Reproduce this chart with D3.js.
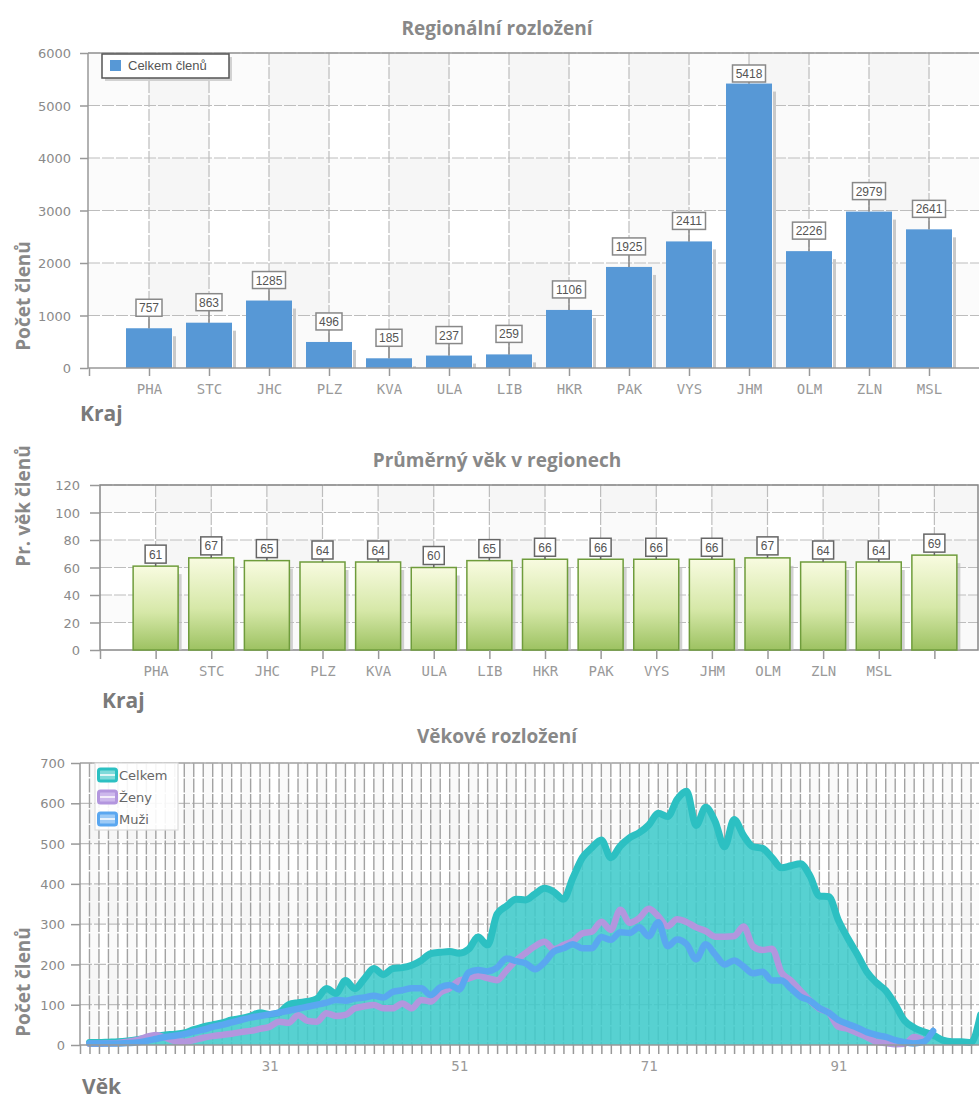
<!DOCTYPE html>
<html><head><meta charset="utf-8">
<script src="https://cdn.jsdelivr.net/npm/d3@7"></script>
<style>body{margin:0;background:#fff}svg{display:block}</style>
</head><body>
<svg id="c" width="979" height="1106"></svg>
<script>
// ---------- DATA ----------
const regions = ["PHA","STC","JHC","PLZ","KVA","ULA","LIB","HKR","PAK","VYS","JHM","OLM","ZLN","MSL"];
const members = [757,863,1285,496,185,237,259,1106,1925,2411,5418,2226,2979,2641];
const memberTicks = [0,1000,2000,3000,4000,5000,6000];

const ageRegions = ["PHA","STC","JHC","PLZ","KVA","ULA","LIB","HKR","PAK","VYS","JHM","OLM","ZLN","MSL",""];
const avgAge = [61,67,65,64,64,60,65,66,66,66,66,67,64,64,69];
const avgAgeTicks = [0,20,40,60,80,100,120];

const ages = d3.range(12, 107);          // age categories 12..106
const ageLabels = [31,51,71,91];
const ageCountTicks = [0,100,200,300,400,500,600,700];
const celkem = [
  6,6,7,8,10,13,17,22,25,27,
  30,38,45,50,55,62,66,72,80,76,
  80,100,105,108,115,140,128,160,140,165,
  190,175,190,192,198,210,227,230,232,228,
  238,268,248,325,345,362,360,375,389,380,
  362,415,465,490,509,465,494,515,527,546,
  575,567,610,630,545,590,555,492,560,520,
  492,488,465,440,445,450,420,370,368,310,
  265,225,182,155,135,100,60,43,33,25,
  12,8,8,6,75];
const zeny = [
  3,3,4,5,8,12,20,25,18,10,
  8,12,18,22,25,28,32,35,40,45,
  58,55,74,60,58,79,72,75,91,96,
  99,91,91,103,91,112,108,130,141,160,
  165,172,166,161,185,210,228,245,256,238,
  248,258,277,281,306,286,336,303,315,338,
  320,295,312,305,292,283,269,269,270,294,
  245,236,239,180,160,135,110,90,80,45,
  40,30,20,8,5,2,3,20,12];
const muzi = [
  4,4,4,4,5,6,10,15,20,23,
  27,33,38,45,50,56,62,68,72,76,
  80,85,90,95,100,105,112,110,115,118,
  122,118,132,136,141,141,124,143,149,138,
  180,186,183,192,215,208,203,188,205,232,
  240,250,240,240,268,261,280,278,292,270,
  305,245,262,250,213,250,225,200,210,195,
  178,182,160,160,140,120,110,92,80,62,
  52,43,32,25,20,12,7,4,8,35];

// ---------- COMMON ----------
const svg = d3.select("#c");
svg.append("rect").attr("width",979).attr("height",1106).attr("fill","#fff");
const defs = svg.append("defs");
const grad = defs.append("linearGradient").attr("id","gGreen").attr("x1",0).attr("y1",0).attr("x2",0).attr("y2",1);
grad.append("stop").attr("offset","0%").attr("stop-color","#f8fbe0");
grad.append("stop").attr("offset","55%").attr("stop-color","#d6e8a8");
grad.append("stop").attr("offset","100%").attr("stop-color","#9dc262");

const TITLE_FONT = "'Open Sans', 'DejaVu Sans', sans-serif";
const MONO = "'DejaVu Sans Mono', monospace";
const NUM = "'DejaVu Sans', Verdana, sans-serif";
const GRID = "#bdbdbd";
const AX = "#999";

function title(txt, x, y) {
  svg.append("text").attr("x",x).attr("y",y).attr("text-anchor","middle")
    .attr("font-family",TITLE_FONT).attr("font-weight","bold").attr("font-size",19)
    .attr("fill","#888").text(txt);
}
function yTitle(txt, x, y) {
  svg.append("text").attr("transform",`translate(${x},${y}) rotate(-90)`)
    .attr("text-anchor","middle").attr("font-family",TITLE_FONT).attr("font-weight","bold")
    .attr("font-size",19).attr("fill","#888").text(txt);
}
function xTitle(txt, x, y, size) {
  svg.append("text").attr("x",x).attr("y",y).attr("font-family",TITLE_FONT)
    .attr("font-weight","bold").attr("font-size",size).attr("fill","#7a7a7a").text(txt);
}

// generic plot background: bands + grid
function plotBack(g, x, y, nPos, yTicks, left, right, top, bottom, gridOpts) {
  for (let i = 0; i < nPos; i++) {
    if (i % 2 === 1) {
      const a = x(i), b = Math.min(x(i+1), right);
      g.append("rect").attr("x",a).attr("y",top).attr("width",Math.max(0,b-a)).attr("height",bottom-top)
        .attr("fill","#000").attr("fill-opacity",0.02);
    }
  }
  for (let k = 0; k < yTicks.length-1; k++) {
    if (k % 2 === 1) {
      g.append("rect").attr("x",left).attr("y",y(yTicks[k+1])).attr("width",right-left)
        .attr("height",y(yTicks[k])-y(yTicks[k+1])).attr("fill","#000").attr("fill-opacity",0.016);
    }
  }
  yTicks.slice(1).forEach(t => {
    g.append("line").attr("x1",left).attr("x2",right).attr("y1",y(t)).attr("y2",y(t))
      .attr("stroke",GRID).attr("stroke-width",1.2).attr("stroke-dasharray","12,2");
  });
  for (let i = 1; i <= nPos; i++) {
    if (x(i) > right) break;
    g.append("line").attr("x1",x(i)).attr("x2",x(i)).attr("y1",top).attr("y2",bottom)
      .attr("stroke",gridOpts.vColor).attr("stroke-width",gridOpts.vWidth).attr("stroke-dasharray",gridOpts.vDash);
  }
}
function yAxisDraw(y, ticks, axisX, tickLen, labelX) {
  const ax = d3.axisLeft(y).tickValues(ticks).tickSize(tickLen).tickPadding(0).tickFormat(d3.format("d"));
  const g = svg.append("g").attr("transform",`translate(${axisX},0)`).call(ax);
  g.select(".domain").remove();
  g.selectAll(".tick line").attr("stroke",AX).attr("stroke-width",1.5);
  g.selectAll(".tick text").attr("x",labelX-axisX).attr("font-family",NUM).attr("font-size",13)
    .attr("fill","#8a8a8a").attr("dy","0.36em");
  return g;
}

// ---------- CHART 1 ----------
{
  const left = 88, top = 53, bottom = 368, right = 990;
  const x = d3.scaleLinear().domain([0,15]).range([89,989]);
  const y = d3.scaleLinear().domain([0,6000]).range([bottom, top]);
  const g = svg.append("g");
  plotBack(g, x, y, 15, memberTicks, left, right, top, bottom, {vColor:GRID, vWidth:1.2, vDash:"12,2"});
  g.append("line").attr("x1",left).attr("x2",right).attr("y1",top).attr("y2",top).attr("stroke","#999").attr("stroke-width",1.5);
  g.append("line").attr("x1",left).attr("x2",left).attr("y1",top).attr("y2",bottom).attr("stroke","#999").attr("stroke-width",1.5);
  members.forEach((v,i) => {
    const cx = x(i+1);
    g.append("rect").attr("x",cx+24).attr("y",y(v)+8).attr("width",3).attr("height",bottom-y(v)-8).attr("fill","#c9c9c9");
    g.append("rect").attr("x",cx-23).attr("y",y(v)).attr("width",46).attr("height",bottom-y(v)).attr("fill","#5798d6");
  });
  g.append("line").attr("x1",left).attr("x2",right).attr("y1",bottom).attr("y2",bottom).attr("stroke","#999").attr("stroke-width",1.5);
  const xa = d3.axisBottom(x).tickValues(d3.range(0,15)).tickSize(8).tickFormat(d => d===0 ? "" : regions[d-1]);
  const xg = svg.append("g").attr("transform",`translate(0,${bottom})`).call(xa);
  xg.select(".domain").remove();
  xg.selectAll(".tick line").attr("stroke",AX).attr("stroke-width",1.5);
  xg.selectAll(".tick text").attr("y",22).attr("dy","0.32em").attr("font-family",MONO).attr("font-size",14).attr("fill","#999");
  members.forEach((v,i) => {
    const cx = x(i+1), t = String(v), w = 7*t.length + 5, h = 17;
    const bt = Math.max(y(v) - 12 - h, top + 12);
    g.append("line").attr("x1",cx).attr("x2",cx).attr("y1",bt+h).attr("y2",y(v)).attr("stroke","#888").attr("stroke-width",1.5);
    g.append("rect").attr("x",cx-w/2).attr("y",bt).attr("width",w).attr("height",h).attr("fill","#fff").attr("stroke","#888").attr("stroke-width",1.5);
    g.append("text").attr("x",cx).attr("y",bt+13).attr("text-anchor","middle").attr("font-family","'Liberation Sans', Arial, sans-serif")
      .attr("font-size",12).attr("fill","#555").text(t);
  });
  yAxisDraw(y, memberTicks, left, 8, 71);
  svg.append("rect").attr("x",105).attr("y",57).attr("width",127).attr("height",24).attr("fill","#aaa").attr("opacity",0.5);
  svg.append("rect").attr("x",102).attr("y",54).attr("width",127).attr("height",24).attr("fill","#fff").attr("stroke","#555").attr("stroke-width",1.5);
  svg.append("rect").attr("x",110).attr("y",60).attr("width",11).attr("height",11).attr("fill","#5798d6");
  svg.append("text").attr("x",128).attr("y",70).attr("font-family","'Liberation Sans', Arial, sans-serif").attr("font-size",13).attr("fill","#555").text("Celkem členů");
  title("Regionální rozložení", 497, 35);
  yTitle("Počet členů", 30, 296);
  xTitle("Kraj", 80, 421, 21);
}

// ---------- CHART 2 ----------
{
  const left = 100, top = 485, bottom = 650, right = 978;
  const x = d3.scaleLinear().domain([0,16]).range([100,990]);
  const y = d3.scaleLinear().domain([0,120]).range([bottom, top]);
  const g = svg.append("g");
  plotBack(g, x, y, 16, avgAgeTicks, left, right, top, bottom, {vColor:GRID, vWidth:1.2, vDash:"12,2"});
  g.append("rect").attr("x",left).attr("y",top).attr("width",right-left).attr("height",bottom-top)
    .attr("fill","none").attr("stroke","#888").attr("stroke-width",1.5);
  avgAge.forEach((v,i) => {
    const cx = x(i+1);
    g.append("rect").attr("x",cx+22).attr("y",y(v)+8).attr("width",4).attr("height",bottom-y(v)-8).attr("fill","#bdbdbd").attr("opacity",0.7);
    g.append("rect").attr("x",cx-22.5).attr("y",y(v)).attr("width",45).attr("height",bottom-y(v))
      .attr("fill","url(#gGreen)").attr("stroke","#6f9c3c").attr("stroke-width",1.5);
  });
  const xa = d3.axisBottom(x).tickValues(d3.range(0,16)).tickSize(9).tickFormat(d => d===0 ? "" : ageRegions[d-1]);
  const xg = svg.append("g").attr("transform",`translate(0,${bottom})`).call(xa);
  xg.select(".domain").remove();
  xg.selectAll(".tick line").attr("stroke",AX).attr("stroke-width",1.5);
  xg.selectAll(".tick text").attr("y",22).attr("dy","0.32em").attr("font-family",MONO).attr("font-size",14).attr("fill","#999");
  avgAge.forEach((v,i) => {
    const cx = x(i+1), t = String(v), w = 21, h = 18;
    const bt = y(v) - 3 - h;
    g.append("line").attr("x1",cx).attr("x2",cx).attr("y1",bt+h).attr("y2",y(v)).attr("stroke","#666").attr("stroke-width",1.5);
    g.append("rect").attr("x",cx-w/2).attr("y",bt).attr("width",w).attr("height",h).attr("fill","#fff").attr("stroke","#666").attr("stroke-width",1.5);
    g.append("text").attr("x",cx).attr("y",bt+13.5).attr("text-anchor","middle").attr("font-family","'Liberation Sans', Arial, sans-serif")
      .attr("font-size",12).attr("fill","#555").text(t);
  });
  yAxisDraw(y, avgAgeTicks, left, 10, 80);
  title("Průměrný věk v regionech", 497, 467);
  yTitle("Pr. věk členů", 30, 506);
  xTitle("Kraj", 102, 708, 21);
}

// ---------- CHART 3 ----------
{
  const left = 80, top = 763, bottom = 1045, right = 990;
  const x = d3.scaleLinear().domain([0,96]).range([80,990]);
  const y = d3.scaleLinear().domain([0,700]).range([bottom, top]);
  const pos = a => x(a - 11);
  const g = svg.append("g");
  plotBack(g, x, y, 96, ageCountTicks, left, right, top, bottom, {vColor:"#a2a2a2", vWidth:1.4, vDash:"14,1.5"});
  g.append("line").attr("x1",left).attr("x2",right).attr("y1",top).attr("y2",top).attr("stroke","#aaa").attr("stroke-width",1.5);
  g.append("line").attr("x1",left).attr("x2",left).attr("y1",top).attr("y2",bottom).attr("stroke","#999").attr("stroke-width",1.5);

  const curve = d3.curveMonotoneX;
  const area = d3.area().x((d,i)=>pos(ages[i])).y0(y(0)).y1(d=>y(d)).curve(curve);
  const line = d3.line().x((d,i)=>pos(ages[i])).y(d=>y(d)).curve(curve);
  g.append("path").datum(celkem).attr("d",area).attr("fill","#40cbcb").attr("fill-opacity",0.88);
  g.append("path").datum(celkem).attr("d",line).attr("fill","none").attr("stroke","#2cc0c2").attr("stroke-width",7)
    .attr("stroke-linejoin","round").attr("stroke-linecap","round");
  g.append("path").datum(zeny).attr("d",line).attr("fill","none").attr("stroke","#b396de").attr("stroke-width",6.5)
    .attr("stroke-linejoin","round").attr("stroke-linecap","round");
  g.append("path").datum(muzi).attr("d",line).attr("fill","none").attr("stroke","#5aa7f0").attr("stroke-width",6.5)
    .attr("stroke-linejoin","round").attr("stroke-linecap","round");
  g.append("line").attr("x1",left).attr("x2",right).attr("y1",bottom).attr("y2",bottom).attr("stroke","#999").attr("stroke-width",1.5);

  const xa = d3.axisBottom(x).tickValues(d3.range(0,96)).tickSize(9)
    .tickFormat(d => { const a = d + 11; return ageLabels.includes(a) ? String(a) : ""; });
  const xg = svg.append("g").attr("transform",`translate(0,${bottom})`).call(xa);
  xg.select(".domain").remove();
  xg.selectAll(".tick line").attr("stroke","#999").attr("stroke-width",1.5);
  xg.selectAll(".tick text").attr("y",22).attr("dy","0.32em").attr("font-family",MONO).attr("font-size",14).attr("fill","#999");
  yAxisDraw(y, ageCountTicks, left, 9, 65);

  const series = [["Celkem","#2cc0c2","#7fdada"],["Ženy","#b396de","#cdb8ec"],["Muži","#5aa7f0","#9ccaf6"]];
  svg.append("rect").attr("x",95).attr("y",763).attr("width",83).attr("height",67).attr("fill","#fff").attr("fill-opacity",0.9)
    .attr("stroke","#ddd").attr("stroke-width",1.2);
  series.forEach((s,k) => {
    const cy = 775 + k*22;
    svg.append("rect").attr("x",98.5).attr("y",cy-6).attr("width",18).attr("height",12).attr("rx",2)
      .attr("fill",s[2]).attr("stroke",s[1]).attr("stroke-width",3);
    svg.append("line").attr("x1",100).attr("x2",115).attr("y1",cy).attr("y2",cy).attr("stroke","#fff").attr("stroke-width",1.5);
    svg.append("text").attr("x",119).attr("y",cy+5).attr("font-family","'DejaVu Sans', Verdana, sans-serif")
      .attr("font-size",13).attr("fill","#666").text(s[0]);
  });
  title("Věkové rozložení", 497, 743);
  yTitle("Počet členů", 30, 982);
  xTitle("Věk", 82, 1094, 21);
}
</script>
</body></html>
